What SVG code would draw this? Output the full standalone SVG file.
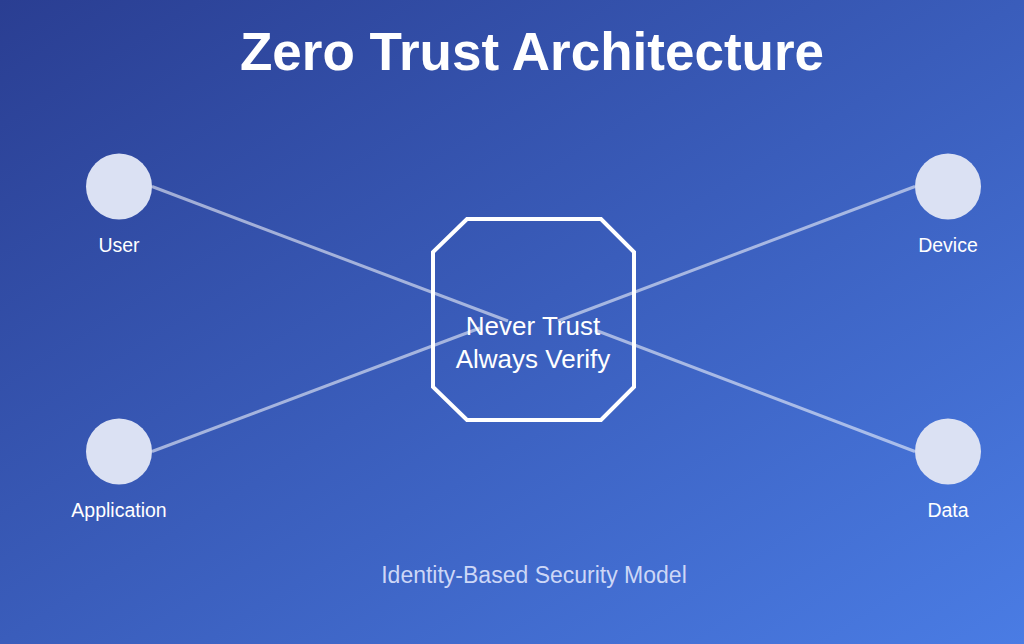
<svg xmlns="http://www.w3.org/2000/svg" width="1024" height="644" viewBox="0 0 1024 644">
  <defs>
    <linearGradient id="bg" x1="0" y1="0" x2="1" y2="1">
      <stop offset="0" stop-color="#2a3e92"/>
      <stop offset="1" stop-color="#4a7ce4"/>
    </linearGradient>
    <style>
      .conn { stroke: #ffffff; stroke-opacity: 0.55; stroke-width: 3; fill: none; }
      .node { fill: #dbe1f3; }
      .label { fill: #ffffff; font-family: "Liberation Sans", Arial, sans-serif; font-size: 19.5px; text-anchor: middle; }
      .core { fill: none; stroke: #ffffff; stroke-width: 4; }
      .coretext { fill: #ffffff; font-family: "Liberation Sans", Arial, sans-serif; font-size: 26px; text-anchor: middle; }
    </style>
  </defs>
  <rect x="0" y="0" width="1024" height="644" fill="url(#bg)"/>
  <text x="532" y="70" fill="#ffffff" font-family="'Liberation Sans', Arial, sans-serif" font-size="53" font-weight="bold" text-anchor="middle">Zero Trust Architecture</text>
  <g id="connectors">
    <line class="conn" x1="152" y1="186.5" x2="508" y2="321"/>
    <line class="conn" x1="152" y1="451.5" x2="480" y2="328"/>
    <line class="conn" x1="915" y1="186.5" x2="558" y2="321"/>
    <line class="conn" x1="915" y1="451.5" x2="595" y2="330"/>
  </g>
  <g id="node-user">
    <circle class="node" cx="119" cy="186.5" r="33"/>
    <text class="label" x="119" y="252">User</text>
  </g>
  <g id="node-device">
    <circle class="node" cx="948" cy="186.5" r="33"/>
    <text class="label" x="948" y="252">Device</text>
  </g>
  <g id="node-application">
    <circle class="node" cx="119" cy="451.5" r="33"/>
    <text class="label" x="119" y="517">Application</text>
  </g>
  <g id="node-data">
    <circle class="node" cx="948" cy="451.5" r="33"/>
    <text class="label" x="948" y="517">Data</text>
  </g>
  <g id="node-core">
    <polygon class="core" points="467,219 601,219 634,252 634,387 601,420 467,420 433,387 433,252"/>
    <text class="coretext" x="533" y="335">Never Trust</text>
    <text class="coretext" x="533" y="368">Always Verify</text>
  </g>
  <text x="534" y="583" fill="#cdd7f7" font-family="'Liberation Sans', Arial, sans-serif" font-size="23" text-anchor="middle">Identity-Based Security Model</text>
</svg>
